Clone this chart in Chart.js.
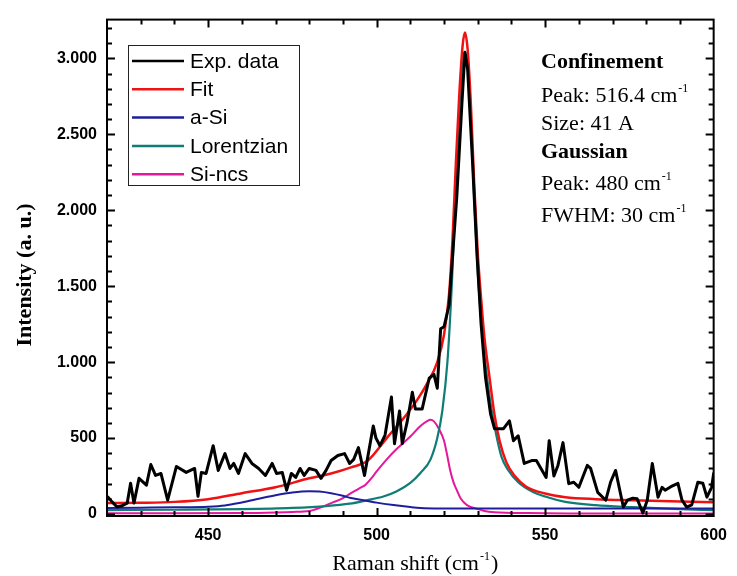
<!DOCTYPE html>
<html>
<head>
<meta charset="utf-8">
<script src="https://cdn.jsdelivr.net/npm/chart.js@4.4.0/dist/chart.umd.min.js"></script>
<style>
  html, body { margin: 0; padding: 0; background: #fff; }
  #wrap { width: 737px; height: 576px; }
</style>
</head>
<body>
<div id="wrap"><canvas id="ramanChart"></canvas></div>
<script>
const expShift = [420.3, 421.5, 423, 424.5, 426, 427, 428, 429.5, 431.7, 433, 434.4, 436, 438, 440.6, 443.5, 446, 447, 448, 449.4,
  451.5, 453, 455, 456.5, 457.6, 459, 461, 463, 465, 467, 469, 470.3, 472, 473.3, 474.7, 476, 477.3, 478.5, 480, 482, 483.5, 485,
  486.5, 488.5, 490.5, 492, 493.2, 494.6, 496.4, 499, 499.8, 501, 502.5, 504.4, 505.3, 506.8, 507.6, 509, 510.6, 511.5, 513.5,
  515.6, 517, 518, 519, 520, 521.5, 523.8, 525.3, 526.2, 527, 528.5, 529.8, 531, 532.3, 533.8, 535, 537.6, 539.4, 540.6, 542,
  543.8, 546, 547.4, 550.3, 551.2, 552.6, 553.8, 555.3, 557, 558.5, 560, 562.5, 563.5, 565.6, 568, 569.4, 570.9, 573.2, 574.4,
  576, 577.3, 579, 580.3, 581.8, 583.5, 584.7, 585.6, 587.3, 589.4, 590.6, 592, 593.5, 595.3, 596.8, 598, 599.4, 600];
const expIntensity = [111, 80, 46, 55, 72, 202, 72, 235, 190, 326, 254, 267, 91, 313, 274, 300, 117, 274, 267,
  450, 287, 398, 300, 333, 267, 398, 333, 300, 254, 333, 267, 274, 157, 267, 241, 300, 254, 300, 287, 235, 287,
  352, 385, 398, 333, 360, 437, 254, 580, 500, 450, 520, 770, 463, 678, 463, 600, 802, 691, 691,
  894, 920, 828, 1220, 1233, 1376, 2094, 2700, 3040, 2930, 2300, 1700, 1250, 900, 660, 561, 561, 613, 483, 515,
  333, 352, 352, 241, 483, 250, 320, 470, 200, 209, 176, 320, 300, 143, 91, 209, 287, 46, 91,
  104, 100, 7, 91, 333, 111, 176, 157, 180, 202, 91, 46, 60, 209, 202, 111, 176, 267];

// fitted curve
const fitShift = [420, 430, 440, 450, 460, 470, 480, 486.5, 492.4, 497.4, 503, 509, 512, 515, 518, 520, 521.5, 522.5, 523.5, 524.5,
  525.5, 526.2, 527, 528, 529, 530, 531, 532, 533.5, 535, 536.5, 538.5, 541, 544.4, 550, 556, 565, 576, 590, 600];
const fitIntensity = [72, 74, 80, 98, 137, 176, 235, 267, 307, 352, 500, 659, 750, 860, 1000, 1180, 1450, 1800, 2300, 2750,
  3080, 3170, 3060, 2680, 2150, 1720, 1420, 1160, 900, 650, 480, 340, 250, 180, 135, 111, 98, 90, 82, 78];

// a-Si component
const aSiShift = [420, 430, 440, 450, 455, 460, 465, 470, 475, 480, 483, 486.5, 490, 492.4, 496.8, 500, 505, 510, 513, 520, 540, 560, 580, 600];
const aSiIntensity = [40, 42, 44, 48, 56, 76, 100, 124, 142, 150, 148, 137, 120, 105, 88, 75, 59, 46, 40, 37, 36, 36, 36, 36];

// Lorentzian component
const lorShift = [420, 440, 460, 475, 485, 492, 497, 502, 506, 510, 513, 516, 518, 519.5, 521, 522.4, 523.5, 524.5, 525.5, 526.2,
  527, 528, 529, 530, 530.6, 531.5, 532.6, 534, 535.5, 537, 539, 542, 546, 550, 556, 565, 576, 590, 600];
const lorIntensity = [26, 28, 32, 40, 52, 68, 90, 115, 150, 205, 270, 360, 500, 680, 1000, 1550, 2150, 2650, 2980, 3040,
  2950, 2550, 2050, 1600, 1396, 1150, 930, 700, 520, 380, 290, 210, 150, 115, 80, 58, 45, 32, 26];

// Si-ncs component
const ncsShift = [420, 440, 460, 470, 475, 480, 486.5, 490, 492.4, 495, 496.8, 498.8, 500, 503, 506, 510, 513, 515, 516, 517,
  518.5, 520, 521, 521.8, 522.8, 523.8, 525, 526.8, 529.7, 532, 535, 545, 560, 600];
const ncsIntensity = [5, 5, 6, 10, 14, 20, 72, 105, 137, 170, 195, 245, 280, 360, 430, 510, 580, 612, 620, 610,
  560, 483, 380, 290, 210, 157, 100, 59, 35, 20, 12, 6, 4, 3];

const seriesNames = ['Exp. data', 'Fit', 'a-Si', 'Lorentzian', 'Si-ncs'];
const xTicks = [450, 500, 550, 600];
const yTicks = [0, 500, 1000, 1500, 2000, 2500, 3000];
const yTickLabels = ['0', '500', '1.000', '1.500', '2.000', '2.500', '3.000'];

function pts(xs, ys) {
    return xs.map((x, i) => ({ x: x, y: ys[i] }));
}

// frame with inward ticks on all four sides
const frameTicks = {
    id: 'frameTicks',
    afterDatasetsDraw(chart) {
        const { ctx, chartArea: a, scales: { x, y } } = chart;
        ctx.save();
        ctx.strokeStyle = '#000';
        ctx.lineWidth = 2;
        ctx.strokeRect(a.left, a.top, a.right - a.left, a.bottom - a.top);
        ctx.beginPath();
        for (let v = 430; v < 600; v += 10) {
            const px = Math.round(x.getPixelForValue(v)) + 0.5;
            const len = v % 50 === 0 ? 8 : 5;
            ctx.moveTo(px, a.bottom); ctx.lineTo(px, a.bottom - len);
            ctx.moveTo(px, a.top); ctx.lineTo(px, a.top + len);
        }
        for (let v = 0; v <= 3200; v += 100) {
            const py = Math.round(y.getPixelForValue(v)) + 0.5;
            const len = v % 500 === 0 ? 8 : 5;
            ctx.moveTo(a.left, py); ctx.lineTo(a.left + len, py);
            ctx.moveTo(a.right, py); ctx.lineTo(a.right - len, py);
        }
        ctx.stroke();
        ctx.restore();
    }
};

// draws "main" then a raised "-1", returns end x
function textWithSup(ctx, main, sup, x, yBase, font, supFont, tail) {
    ctx.font = font;
    ctx.fillText(main, x, yBase);
    let cx = x + ctx.measureText(main).width + 1;
    ctx.font = supFont;
    ctx.fillText(sup, cx, yBase - 10);
    cx += ctx.measureText(sup).width + 1;
    if (tail) {
        ctx.font = font;
        ctx.fillText(tail, cx, yBase);
        cx += ctx.measureText(tail).width;
    }
    return cx;
}

const textBits = {
    id: 'textBits',
    afterDraw(chart) {
        const { ctx, chartArea: a } = chart;
        ctx.save();
        ctx.fillStyle = '#000';
        ctx.textAlign = 'left';
        ctx.textBaseline = 'alphabetic';

        // y axis title
        ctx.save();
        ctx.translate(31, 275);
        ctx.rotate(-Math.PI / 2);
        ctx.textAlign = 'center';
        ctx.font = 'bold 22px "Liberation Serif"';
        ctx.fillText('Intensity (a. u.)', 0, 0);
        ctx.restore();

        // x axis title
        const serif = '22px "Liberation Serif"';
        const supSerif = '12px "Liberation Serif"';
        ctx.font = serif;
        const w = ctx.measureText('Raman shift (cm').width + ctx.measureText(')').width + 12;
        textWithSup(ctx, 'Raman shift (cm', '-1', (a.left + a.right) / 2 + 5 - w / 2, 570, serif, supSerif, ')');

        // fit parameters
        const tx = 541;
        ctx.font = 'bold 22px "Liberation Serif"';
        ctx.fillText('Confinement', tx, 68);
        textWithSup(ctx, 'Peak: 516.4 cm', '-1', tx, 102, serif, supSerif);
        ctx.font = serif;
        ctx.fillText('Size: 41 A', tx, 130);
        ctx.font = 'bold 22px "Liberation Serif"';
        ctx.fillText('Gaussian', tx, 158);
        textWithSup(ctx, 'Peak: 480 cm', '-1', tx, 190, serif, supSerif);
        textWithSup(ctx, 'FWHM: 30 cm', '-1', tx, 222, serif, supSerif);

        // legend box
        ctx.lineWidth = 1;
        ctx.strokeStyle = '#222';
        ctx.strokeRect(128.5, 45.5, 171, 140);
        ctx.font = '21px "Liberation Sans"';
        ctx.textBaseline = 'middle';
        chart.data.datasets.forEach((ds, i) => {
            const ly = 61 + i * 28.3;
            ctx.strokeStyle = ds.borderColor;
            ctx.lineWidth = 2.5;
            ctx.beginPath();
            ctx.moveTo(132, ly);
            ctx.lineTo(184, ly);
            ctx.stroke();
            ctx.fillText(ds.label, 190, ly + 1);
        });
        ctx.restore();
    }
};

const ramanCtx = document.getElementById('ramanChart').getContext('2d');
const smooth = { cubicInterpolationMode: 'monotone' };

new Chart(ramanCtx, {
    type: 'line',
    data: {
        datasets: [
            { label: seriesNames[0], data: pts(expShift, expIntensity), borderColor: '#000000', borderWidth: 3 },
            { label: seriesNames[1], data: pts(fitShift, fitIntensity), borderColor: '#f01212', borderWidth: 2.5, ...smooth },
            { label: seriesNames[2], data: pts(aSiShift, aSiIntensity), borderColor: '#1e1e9c', borderWidth: 2, ...smooth },
            { label: seriesNames[3], data: pts(lorShift, lorIntensity), borderColor: '#0f7d76', borderWidth: 2.2, ...smooth },
            { label: seriesNames[4], data: pts(ncsShift, ncsIntensity), borderColor: '#e5179b', borderWidth: 2, ...smooth }
        ]
    },
    options: {
        responsive: true,
        maintainAspectRatio: false,
        animation: false,
        layout: { padding: { top: 15, right: 17, left: 0, bottom: 0 } },
        elements: {
            point: { radius: 0 },
            line: { tension: 0, borderJoinStyle: 'round', borderCapStyle: 'round' }
        },
        plugins: {
            legend: { display: false },
            tooltip: { enabled: false }
        },
        scales: {
            x: {
                type: 'linear',
                min: 420,
                max: 600,
                grid: { display: false, drawTicks: false },
                border: { display: false },
                afterBuildTicks: s => { s.ticks = xTicks.map(v => ({ value: v })); },
                afterFit: s => { s.height = 60; },
                ticks: {
                    padding: 10,
                    color: '#000',
                    maxRotation: 0,
                    font: { family: '"Liberation Sans"', size: 16, weight: 'bold' }
                }
            },
            y: {
                min: -13,
                max: 3255,
                grid: { display: false, drawTicks: false },
                border: { display: false },
                afterBuildTicks: s => { s.ticks = yTicks.map(v => ({ value: v })); },
                afterFit: s => { s.width = 107; },
                ticks: {
                    padding: 10,
                    color: '#000',
                    font: { family: '"Liberation Sans"', size: 16, weight: 'bold' },
                    callback: (v, i) => yTickLabels[i]
                }
            }
        }
    },
    plugins: [frameTicks, textBits]
});
</script>
</body>
</html>
